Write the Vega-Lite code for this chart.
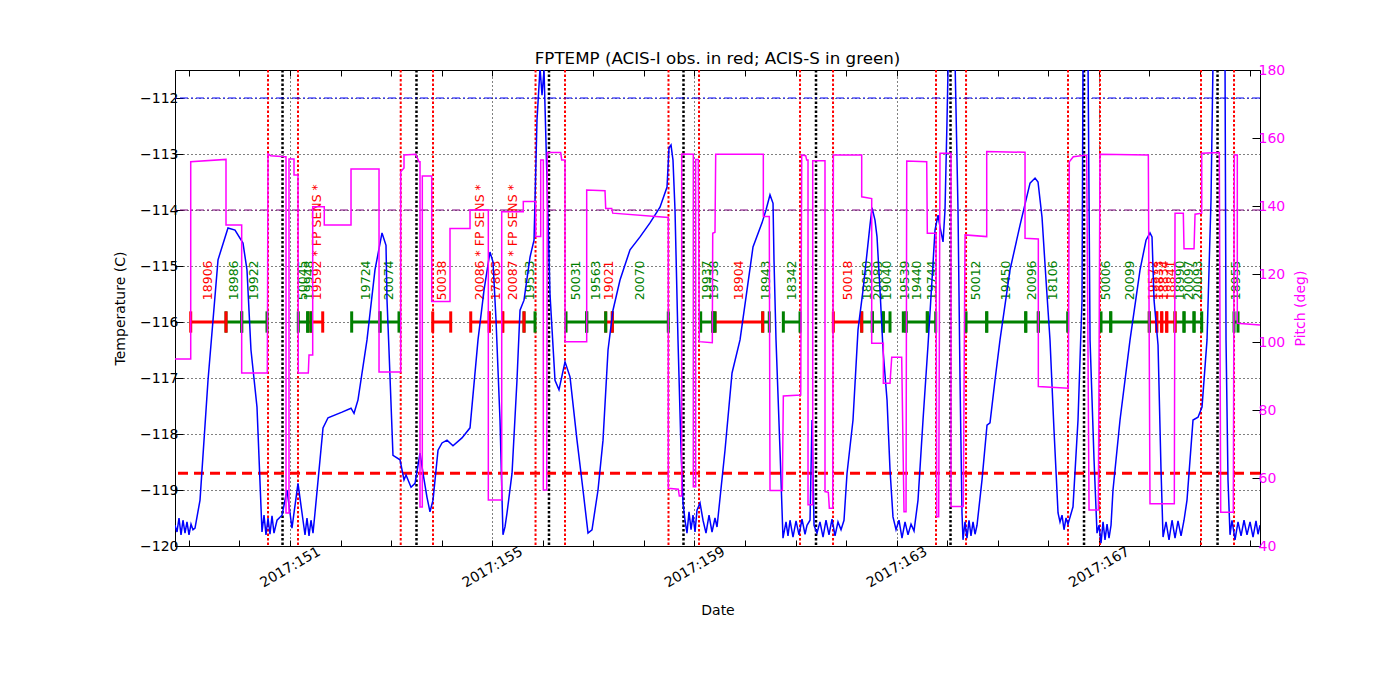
{
  "$schema": "https://vega.github.io/schema/vega-lite/v6.json",
  "width": 1085,
  "height": 476,
  "autosize": "none",
  "padding": {"left": 175, "top": 70, "right": 140, "bottom": 154},
  "background": "white",
  "title": {"text": "FPTEMP (ACIS-I obs. in red; ACIS-S in green)", "fontSize": 16.7, "fontWeight": "normal", "font": "DejaVu Sans", "color": "black", "offset": -5},
  "datasets": {
    "events": [
      {"day": 150.565, "event": "radzone"}, {"day": 151.158, "event": "radzone"},
      {"day": 153.190, "event": "radzone"}, {"day": 153.829, "event": "radzone"},
      {"day": 155.857, "event": "radzone"}, {"day": 156.440, "event": "radzone"},
      {"day": 158.487, "event": "radzone"}, {"day": 159.091, "event": "radzone"},
      {"day": 161.089, "event": "radzone"}, {"day": 161.742, "event": "radzone"},
      {"day": 163.779, "event": "radzone"}, {"day": 164.373, "event": "radzone"},
      {"day": 166.390, "event": "radzone"}, {"day": 167.023, "event": "radzone"},
      {"day": 169.021, "event": "radzone"}, {"day": 169.674, "event": "radzone"},
      {"day": 150.852, "event": "perigee"}, {"day": 153.502, "event": "perigee"},
      {"day": 156.123, "event": "perigee"}, {"day": 158.784, "event": "perigee"},
      {"day": 161.405, "event": "perigee"}, {"day": 164.066, "event": "perigee"},
      {"day": 166.707, "event": "perigee"}, {"day": 169.348, "event": "perigee"}
    ],
    "limits": [
      {"limit": "planning", "fptemp": -112.0},
      {"limit": "caution", "fptemp": -114.0},
      {"limit": "acis", "fptemp": -118.7}
    ],
    "obs": [
      {"obsid": "18906", "instrument": "ACIS-I", "start": 149.036, "stop": 149.734},
      {"obsid": "18986", "instrument": "ACIS-S", "start": 149.734, "stop": 150.044},
      {"obsid": "19922", "instrument": "ACIS-S", "start": 150.044, "stop": 150.545},
      {"obsid": "50045", "instrument": "ACIS-S", "start": 151.164, "stop": 151.350},
      {"obsid": "19948", "instrument": "ACIS-S", "start": 151.350, "stop": 151.415},
      {"obsid": "19592 * FP SENS *", "instrument": "ACIS-I", "start": 151.415, "stop": 151.647},
      {"obsid": "19724", "instrument": "ACIS-S", "start": 152.220, "stop": 152.780},
      {"obsid": "20074", "instrument": "ACIS-S", "start": 152.780, "stop": 153.156},
      {"obsid": "50038", "instrument": "ACIS-I", "start": 153.823, "stop": 154.179},
      {"obsid": "20086 * FP SENS *", "instrument": "ACIS-I", "start": 154.575, "stop": 154.942},
      {"obsid": "17863", "instrument": "ACIS-I", "start": 154.942, "stop": 155.208},
      {"obsid": "20087 * FP SENS *", "instrument": "ACIS-I", "start": 155.208, "stop": 155.629},
      {"obsid": "19533", "instrument": "ACIS-S", "start": 155.629, "stop": 155.847},
      {"obsid": "50031", "instrument": "ACIS-S", "start": 156.460, "stop": 156.869},
      {"obsid": "19563", "instrument": "ACIS-S", "start": 156.869, "stop": 157.245},
      {"obsid": "19021", "instrument": "ACIS-I", "start": 157.245, "stop": 157.376},
      {"obsid": "20070", "instrument": "ACIS-S", "start": 157.376, "stop": 158.483},
      {"obsid": "19937", "instrument": "ACIS-S", "start": 159.124, "stop": 159.362},
      {"obsid": "19738", "instrument": "ACIS-S", "start": 159.362, "stop": 159.407},
      {"obsid": "18904", "instrument": "ACIS-I", "start": 159.407, "stop": 160.351},
      {"obsid": "18943", "instrument": "ACIS-S", "start": 160.351, "stop": 160.481},
      {"obsid": "18342", "instrument": "ACIS-S", "start": 160.759, "stop": 161.089},
      {"obsid": "50018", "instrument": "ACIS-I", "start": 161.748, "stop": 162.309},
      {"obsid": "18950", "instrument": "ACIS-S", "start": 162.309, "stop": 162.519},
      {"obsid": "20089", "instrument": "ACIS-S", "start": 162.519, "stop": 162.737},
      {"obsid": "19040", "instrument": "ACIS-S", "start": 162.737, "stop": 162.869},
      {"obsid": "19539", "instrument": "ACIS-S", "start": 163.132, "stop": 163.186},
      {"obsid": "19440", "instrument": "ACIS-S", "start": 163.186, "stop": 163.607},
      {"obsid": "19744", "instrument": "ACIS-S", "start": 163.607, "stop": 163.773},
      {"obsid": "50012", "instrument": "ACIS-S", "start": 164.373, "stop": 164.782},
      {"obsid": "19450", "instrument": "ACIS-S", "start": 164.782, "stop": 165.554},
      {"obsid": "20096", "instrument": "ACIS-S", "start": 165.554, "stop": 165.803},
      {"obsid": "18106", "instrument": "ACIS-S", "start": 165.803, "stop": 166.384},
      {"obsid": "50006", "instrument": "ACIS-S", "start": 167.043, "stop": 167.235},
      {"obsid": "20099", "instrument": "ACIS-S", "start": 167.235, "stop": 167.998},
      {"obsid": "19572", "instrument": "ACIS-I", "start": 167.998, "stop": 168.145},
      {"obsid": "18833", "instrument": "ACIS-I", "start": 168.145, "stop": 168.244},
      {"obsid": "18834", "instrument": "ACIS-I", "start": 168.244, "stop": 168.343},
      {"obsid": "18841", "instrument": "ACIS-I", "start": 168.343, "stop": 168.507},
      {"obsid": "18990", "instrument": "ACIS-S", "start": 168.507, "stop": 168.685},
      {"obsid": "20097", "instrument": "ACIS-S", "start": 168.685, "stop": 168.883},
      {"obsid": "20093", "instrument": "ACIS-S", "start": 168.883, "stop": 169.035},
      {"obsid": "18955", "instrument": "ACIS-S", "start": 169.674, "stop": 169.753}
    ],
    "fptemp": [
      {"day": 148.725, "fptemp": -119.63}, {"day": 148.765, "fptemp": -119.75}, {"day": 148.804, "fptemp": -119.50},
      {"day": 148.844, "fptemp": -119.80}, {"day": 148.883, "fptemp": -119.54}, {"day": 148.923, "fptemp": -119.77},
      {"day": 148.962, "fptemp": -119.57}, {"day": 149.002, "fptemp": -119.80}, {"day": 149.042, "fptemp": -119.61},
      {"day": 149.081, "fptemp": -119.71}, {"day": 149.121, "fptemp": -119.68}, {"day": 149.220, "fptemp": -119.18},
      {"day": 149.378, "fptemp": -117.04}, {"day": 149.576, "fptemp": -114.89}, {"day": 149.773, "fptemp": -114.32},
      {"day": 149.912, "fptemp": -114.36}, {"day": 150.070, "fptemp": -114.59}, {"day": 150.149, "fptemp": -115.07},
      {"day": 150.228, "fptemp": -116.50}, {"day": 150.347, "fptemp": -117.52}, {"day": 150.446, "fptemp": -119.75},
      {"day": 150.486, "fptemp": -119.45}, {"day": 150.525, "fptemp": -119.80}, {"day": 150.565, "fptemp": -119.50},
      {"day": 150.604, "fptemp": -119.79}, {"day": 150.644, "fptemp": -119.46}, {"day": 150.683, "fptemp": -119.77},
      {"day": 150.743, "fptemp": -119.54}, {"day": 150.842, "fptemp": -119.45}, {"day": 150.941, "fptemp": -119.00},
      {"day": 151.039, "fptemp": -119.68}, {"day": 151.158, "fptemp": -118.88}, {"day": 151.257, "fptemp": -119.54},
      {"day": 151.297, "fptemp": -119.80}, {"day": 151.336, "fptemp": -119.50}, {"day": 151.376, "fptemp": -119.82},
      {"day": 151.415, "fptemp": -119.54}, {"day": 151.455, "fptemp": -119.77}, {"day": 151.494, "fptemp": -119.41},
      {"day": 151.653, "fptemp": -117.89}, {"day": 151.752, "fptemp": -117.71}, {"day": 152.029, "fptemp": -117.61},
      {"day": 152.207, "fptemp": -117.54}, {"day": 152.266, "fptemp": -117.63}, {"day": 152.345, "fptemp": -117.39},
      {"day": 152.523, "fptemp": -116.32}, {"day": 152.681, "fptemp": -115.07}, {"day": 152.820, "fptemp": -114.41},
      {"day": 152.899, "fptemp": -114.63}, {"day": 152.919, "fptemp": -115.61}, {"day": 152.958, "fptemp": -116.50},
      {"day": 153.037, "fptemp": -118.38}, {"day": 153.176, "fptemp": -118.46}, {"day": 153.255, "fptemp": -118.82},
      {"day": 153.295, "fptemp": -118.73}, {"day": 153.394, "fptemp": -118.95}, {"day": 153.473, "fptemp": -118.88},
      {"day": 153.572, "fptemp": -118.34}, {"day": 153.631, "fptemp": -118.70}, {"day": 153.710, "fptemp": -119.13},
      {"day": 153.769, "fptemp": -119.39}, {"day": 153.829, "fptemp": -119.18}, {"day": 153.928, "fptemp": -118.29},
      {"day": 154.007, "fptemp": -118.16}, {"day": 154.106, "fptemp": -118.11}, {"day": 154.224, "fptemp": -118.21},
      {"day": 154.402, "fptemp": -118.07}, {"day": 154.561, "fptemp": -117.89}, {"day": 154.719, "fptemp": -116.32},
      {"day": 154.838, "fptemp": -115.43}, {"day": 154.956, "fptemp": -114.75}, {"day": 155.016, "fptemp": -114.93},
      {"day": 155.075, "fptemp": -115.96}, {"day": 155.154, "fptemp": -117.75}, {"day": 155.213, "fptemp": -119.80},
      {"day": 155.253, "fptemp": -119.66}, {"day": 155.293, "fptemp": -119.41}, {"day": 155.392, "fptemp": -118.70},
      {"day": 155.490, "fptemp": -117.04}, {"day": 155.550, "fptemp": -115.79}, {"day": 155.629, "fptemp": -115.61},
      {"day": 155.748, "fptemp": -114.84}, {"day": 155.827, "fptemp": -114.54}, {"day": 155.886, "fptemp": -112.39},
      {"day": 155.946, "fptemp": -111.46}, {"day": 155.985, "fptemp": -111.95}, {"day": 156.025, "fptemp": -111.50},
      {"day": 156.064, "fptemp": -112.80}, {"day": 156.143, "fptemp": -115.50}, {"day": 156.242, "fptemp": -117.04},
      {"day": 156.321, "fptemp": -117.21}, {"day": 156.440, "fptemp": -116.71}, {"day": 156.539, "fptemp": -116.98},
      {"day": 156.677, "fptemp": -118.11}, {"day": 156.796, "fptemp": -119.00}, {"day": 156.895, "fptemp": -119.77},
      {"day": 156.974, "fptemp": -119.71}, {"day": 157.093, "fptemp": -119.00}, {"day": 157.192, "fptemp": -118.11},
      {"day": 157.291, "fptemp": -116.50}, {"day": 157.389, "fptemp": -115.79}, {"day": 157.528, "fptemp": -115.25},
      {"day": 157.726, "fptemp": -114.71}, {"day": 157.924, "fptemp": -114.48}, {"day": 158.121, "fptemp": -114.23},
      {"day": 158.319, "fptemp": -113.95}, {"day": 158.458, "fptemp": -113.59}, {"day": 158.497, "fptemp": -112.89},
      {"day": 158.537, "fptemp": -112.84}, {"day": 158.576, "fptemp": -113.11}, {"day": 158.616, "fptemp": -114.00},
      {"day": 158.675, "fptemp": -116.32}, {"day": 158.735, "fptemp": -118.29}, {"day": 158.774, "fptemp": -119.23},
      {"day": 158.814, "fptemp": -119.54}, {"day": 158.853, "fptemp": -119.77}, {"day": 158.893, "fptemp": -119.39},
      {"day": 158.933, "fptemp": -119.71}, {"day": 158.972, "fptemp": -119.45}, {"day": 159.012, "fptemp": -119.75},
      {"day": 159.051, "fptemp": -119.36}, {"day": 159.111, "fptemp": -119.23}, {"day": 159.170, "fptemp": -119.54},
      {"day": 159.229, "fptemp": -119.77}, {"day": 159.289, "fptemp": -119.45}, {"day": 159.348, "fptemp": -119.75},
      {"day": 159.407, "fptemp": -119.50}, {"day": 159.447, "fptemp": -119.66}, {"day": 159.605, "fptemp": -118.29},
      {"day": 159.744, "fptemp": -116.91}, {"day": 159.902, "fptemp": -116.32}, {"day": 160.040, "fptemp": -115.43},
      {"day": 160.159, "fptemp": -114.66}, {"day": 160.337, "fptemp": -114.23}, {"day": 160.416, "fptemp": -114.00},
      {"day": 160.495, "fptemp": -113.73}, {"day": 160.555, "fptemp": -113.88}, {"day": 160.574, "fptemp": -114.89},
      {"day": 160.614, "fptemp": -116.32}, {"day": 160.693, "fptemp": -118.29}, {"day": 160.752, "fptemp": -119.86},
      {"day": 160.812, "fptemp": -119.57}, {"day": 160.851, "fptemp": -119.82}, {"day": 160.891, "fptemp": -119.54},
      {"day": 160.950, "fptemp": -119.84}, {"day": 161.010, "fptemp": -119.55}, {"day": 161.069, "fptemp": -119.80},
      {"day": 161.128, "fptemp": -119.52}, {"day": 161.188, "fptemp": -119.79}, {"day": 161.227, "fptemp": -119.63},
      {"day": 161.287, "fptemp": -119.54}, {"day": 161.326, "fptemp": -117.75}, {"day": 161.366, "fptemp": -119.63},
      {"day": 161.425, "fptemp": -119.77}, {"day": 161.484, "fptemp": -119.57}, {"day": 161.544, "fptemp": -119.84},
      {"day": 161.603, "fptemp": -119.54}, {"day": 161.662, "fptemp": -119.80}, {"day": 161.722, "fptemp": -119.52},
      {"day": 161.781, "fptemp": -119.82}, {"day": 161.840, "fptemp": -119.57}, {"day": 161.900, "fptemp": -119.71},
      {"day": 161.959, "fptemp": -119.54}, {"day": 162.019, "fptemp": -118.70}, {"day": 162.137, "fptemp": -117.75},
      {"day": 162.236, "fptemp": -116.14}, {"day": 162.335, "fptemp": -115.43}, {"day": 162.414, "fptemp": -114.77},
      {"day": 162.473, "fptemp": -114.27}, {"day": 162.513, "fptemp": -113.96}, {"day": 162.572, "fptemp": -114.18},
      {"day": 162.612, "fptemp": -114.48}, {"day": 162.671, "fptemp": -115.43}, {"day": 162.731, "fptemp": -116.50},
      {"day": 162.810, "fptemp": -117.39}, {"day": 162.869, "fptemp": -118.64}, {"day": 162.928, "fptemp": -119.48},
      {"day": 162.988, "fptemp": -119.71}, {"day": 163.047, "fptemp": -119.54}, {"day": 163.106, "fptemp": -119.86},
      {"day": 163.166, "fptemp": -119.57}, {"day": 163.225, "fptemp": -119.80}, {"day": 163.285, "fptemp": -119.61},
      {"day": 163.344, "fptemp": -119.73}, {"day": 163.423, "fptemp": -119.18}, {"day": 163.522, "fptemp": -117.75},
      {"day": 163.621, "fptemp": -116.41}, {"day": 163.700, "fptemp": -115.25}, {"day": 163.759, "fptemp": -114.36},
      {"day": 163.819, "fptemp": -114.09}, {"day": 163.858, "fptemp": -114.30}, {"day": 163.918, "fptemp": -114.57},
      {"day": 163.957, "fptemp": -114.00}, {"day": 163.997, "fptemp": -112.39}, {"day": 164.036, "fptemp": -110.61},
      {"day": 164.115, "fptemp": -110.61}, {"day": 164.155, "fptemp": -111.32}, {"day": 164.214, "fptemp": -114.00},
      {"day": 164.254, "fptemp": -117.04}, {"day": 164.293, "fptemp": -119.41}, {"day": 164.313, "fptemp": -119.89},
      {"day": 164.353, "fptemp": -119.57}, {"day": 164.392, "fptemp": -119.86}, {"day": 164.432, "fptemp": -119.54},
      {"day": 164.471, "fptemp": -119.82}, {"day": 164.511, "fptemp": -119.57}, {"day": 164.551, "fptemp": -119.79},
      {"day": 164.590, "fptemp": -119.63}, {"day": 164.689, "fptemp": -118.82}, {"day": 164.788, "fptemp": -117.84},
      {"day": 164.847, "fptemp": -117.80}, {"day": 164.946, "fptemp": -117.04}, {"day": 165.045, "fptemp": -116.32},
      {"day": 165.243, "fptemp": -115.07}, {"day": 165.441, "fptemp": -114.27}, {"day": 165.639, "fptemp": -113.52},
      {"day": 165.738, "fptemp": -113.43}, {"day": 165.797, "fptemp": -113.50}, {"day": 165.876, "fptemp": -114.13},
      {"day": 165.955, "fptemp": -115.25}, {"day": 166.034, "fptemp": -116.32}, {"day": 166.113, "fptemp": -117.93},
      {"day": 166.193, "fptemp": -119.41}, {"day": 166.232, "fptemp": -119.57}, {"day": 166.272, "fptemp": -119.45},
      {"day": 166.311, "fptemp": -119.71}, {"day": 166.351, "fptemp": -119.50}, {"day": 166.390, "fptemp": -119.61},
      {"day": 166.489, "fptemp": -119.30}, {"day": 166.588, "fptemp": -117.75}, {"day": 166.667, "fptemp": -115.61},
      {"day": 166.687, "fptemp": -111.32}, {"day": 166.727, "fptemp": -110.61}, {"day": 166.766, "fptemp": -110.61},
      {"day": 166.786, "fptemp": -111.32}, {"day": 166.826, "fptemp": -116.32}, {"day": 166.905, "fptemp": -118.46},
      {"day": 166.964, "fptemp": -119.77}, {"day": 167.004, "fptemp": -119.63}, {"day": 167.043, "fptemp": -119.95},
      {"day": 167.083, "fptemp": -119.57}, {"day": 167.122, "fptemp": -119.89}, {"day": 167.162, "fptemp": -119.61},
      {"day": 167.201, "fptemp": -119.86}, {"day": 167.241, "fptemp": -119.63}, {"day": 167.280, "fptemp": -119.00},
      {"day": 167.419, "fptemp": -117.75}, {"day": 167.617, "fptemp": -116.32}, {"day": 167.815, "fptemp": -115.07},
      {"day": 167.933, "fptemp": -114.54}, {"day": 168.012, "fptemp": -114.41}, {"day": 168.052, "fptemp": -114.48},
      {"day": 168.092, "fptemp": -115.61}, {"day": 168.171, "fptemp": -116.41}, {"day": 168.230, "fptemp": -118.64},
      {"day": 168.270, "fptemp": -119.84}, {"day": 168.329, "fptemp": -119.57}, {"day": 168.388, "fptemp": -119.89},
      {"day": 168.448, "fptemp": -119.54}, {"day": 168.507, "fptemp": -119.86}, {"day": 168.566, "fptemp": -119.55},
      {"day": 168.626, "fptemp": -119.82}, {"day": 168.685, "fptemp": -119.54}, {"day": 168.744, "fptemp": -119.18},
      {"day": 168.863, "fptemp": -117.75}, {"day": 168.962, "fptemp": -117.70}, {"day": 169.041, "fptemp": -117.52},
      {"day": 169.140, "fptemp": -116.32}, {"day": 169.219, "fptemp": -113.82}, {"day": 169.259, "fptemp": -111.32},
      {"day": 169.278, "fptemp": -110.61}, {"day": 169.456, "fptemp": -110.61}, {"day": 169.496, "fptemp": -111.32},
      {"day": 169.516, "fptemp": -116.32}, {"day": 169.555, "fptemp": -118.82}, {"day": 169.595, "fptemp": -119.80},
      {"day": 169.634, "fptemp": -119.54}, {"day": 169.694, "fptemp": -119.89}, {"day": 169.753, "fptemp": -119.57},
      {"day": 169.813, "fptemp": -119.82}, {"day": 169.872, "fptemp": -119.54}, {"day": 169.931, "fptemp": -119.80},
      {"day": 169.991, "fptemp": -119.57}, {"day": 170.050, "fptemp": -119.84}, {"day": 170.109, "fptemp": -119.55},
      {"day": 170.149, "fptemp": -119.79}, {"day": 170.188, "fptemp": -119.63}
    ],
    "pitch": [
      {"day": 148.725, "pitch": 95.0}, {"day": 149.036, "pitch": 95.0}, {"day": 149.036, "pitch": 153.0},
      {"day": 149.734, "pitch": 153.7}, {"day": 149.734, "pitch": 134.4}, {"day": 150.044, "pitch": 134.4},
      {"day": 150.044, "pitch": 90.9}, {"day": 150.551, "pitch": 90.9}, {"day": 150.565, "pitch": 155.3},
      {"day": 150.618, "pitch": 154.8}, {"day": 150.901, "pitch": 154.5}, {"day": 150.921, "pitch": 154.5},
      {"day": 150.921, "pitch": 49.7}, {"day": 150.980, "pitch": 49.7}, {"day": 150.980, "pitch": 153.8},
      {"day": 151.079, "pitch": 153.8}, {"day": 151.079, "pitch": 149.1}, {"day": 151.158, "pitch": 149.1},
      {"day": 151.164, "pitch": 90.9}, {"day": 151.362, "pitch": 90.9}, {"day": 151.376, "pitch": 96.2},
      {"day": 151.449, "pitch": 96.2}, {"day": 151.449, "pitch": 139.8}, {"day": 151.678, "pitch": 139.8},
      {"day": 151.678, "pitch": 134.4}, {"day": 152.207, "pitch": 134.4}, {"day": 152.207, "pitch": 150.9},
      {"day": 152.761, "pitch": 150.9}, {"day": 152.761, "pitch": 91.2}, {"day": 153.190, "pitch": 91.2},
      {"day": 153.190, "pitch": 150.1}, {"day": 153.255, "pitch": 151.2}, {"day": 153.255, "pitch": 155.0},
      {"day": 153.487, "pitch": 155.2}, {"day": 153.552, "pitch": 153.0}, {"day": 153.572, "pitch": 153.0},
      {"day": 153.572, "pitch": 51.5}, {"day": 153.617, "pitch": 51.5}, {"day": 153.617, "pitch": 148.8},
      {"day": 153.803, "pitch": 148.8}, {"day": 153.803, "pitch": 111.9}, {"day": 154.165, "pitch": 111.9},
      {"day": 154.165, "pitch": 133.4}, {"day": 154.561, "pitch": 133.4}, {"day": 154.561, "pitch": 138.8},
      {"day": 154.923, "pitch": 138.8}, {"day": 154.923, "pitch": 53.5}, {"day": 155.188, "pitch": 53.5},
      {"day": 155.188, "pitch": 138.3}, {"day": 155.615, "pitch": 138.3}, {"day": 155.615, "pitch": 141.3},
      {"day": 155.860, "pitch": 141.3}, {"day": 155.860, "pitch": 131.0}, {"day": 155.959, "pitch": 131.0},
      {"day": 155.959, "pitch": 153.5}, {"day": 156.011, "pitch": 153.5}, {"day": 156.011, "pitch": 56.5},
      {"day": 156.078, "pitch": 56.5}, {"day": 156.090, "pitch": 155.7}, {"day": 156.355, "pitch": 155.7},
      {"day": 156.375, "pitch": 153.5}, {"day": 156.440, "pitch": 153.5}, {"day": 156.440, "pitch": 100.1},
      {"day": 156.869, "pitch": 100.1}, {"day": 156.869, "pitch": 144.7}, {"day": 157.231, "pitch": 144.5},
      {"day": 157.245, "pitch": 139.3}, {"day": 157.364, "pitch": 139.3}, {"day": 157.384, "pitch": 137.9},
      {"day": 158.483, "pitch": 136.6}, {"day": 158.483, "pitch": 57.0}, {"day": 158.681, "pitch": 56.7},
      {"day": 158.701, "pitch": 54.7}, {"day": 158.748, "pitch": 54.7}, {"day": 158.748, "pitch": 155.3},
      {"day": 158.978, "pitch": 155.2}, {"day": 158.978, "pitch": 57.4}, {"day": 159.025, "pitch": 57.4},
      {"day": 159.025, "pitch": 153.7}, {"day": 159.077, "pitch": 153.7}, {"day": 159.097, "pitch": 100.1},
      {"day": 159.354, "pitch": 99.8}, {"day": 159.362, "pitch": 132.0}, {"day": 159.407, "pitch": 132.3},
      {"day": 159.421, "pitch": 155.2}, {"day": 160.363, "pitch": 155.2}, {"day": 160.363, "pitch": 136.9},
      {"day": 160.481, "pitch": 136.9}, {"day": 160.495, "pitch": 56.3}, {"day": 160.739, "pitch": 56.3},
      {"day": 160.759, "pitch": 84.1}, {"day": 161.103, "pitch": 84.4}, {"day": 161.123, "pitch": 155.0},
      {"day": 161.201, "pitch": 154.8}, {"day": 161.221, "pitch": 153.5}, {"day": 161.247, "pitch": 153.5},
      {"day": 161.247, "pitch": 52.1}, {"day": 161.340, "pitch": 52.1}, {"day": 161.340, "pitch": 153.3},
      {"day": 161.583, "pitch": 153.3}, {"day": 161.583, "pitch": 56.0}, {"day": 161.649, "pitch": 55.8},
      {"day": 161.669, "pitch": 51.1}, {"day": 161.736, "pitch": 51.1}, {"day": 161.748, "pitch": 155.0},
      {"day": 162.309, "pitch": 155.0}, {"day": 162.309, "pitch": 142.7}, {"day": 162.507, "pitch": 142.2},
      {"day": 162.507, "pitch": 99.6}, {"day": 162.737, "pitch": 99.6}, {"day": 162.737, "pitch": 87.9},
      {"day": 162.869, "pitch": 87.9}, {"day": 162.903, "pitch": 95.5}, {"day": 163.100, "pitch": 95.5},
      {"day": 163.146, "pitch": 50.1}, {"day": 163.186, "pitch": 50.1}, {"day": 163.200, "pitch": 153.2},
      {"day": 163.595, "pitch": 153.0}, {"day": 163.607, "pitch": 132.0}, {"day": 163.779, "pitch": 132.0},
      {"day": 163.793, "pitch": 48.6}, {"day": 163.832, "pitch": 48.6}, {"day": 163.858, "pitch": 155.5},
      {"day": 164.076, "pitch": 155.5}, {"day": 164.076, "pitch": 51.6}, {"day": 164.319, "pitch": 51.6},
      {"day": 164.353, "pitch": 131.5}, {"day": 164.782, "pitch": 131.0}, {"day": 164.782, "pitch": 156.0},
      {"day": 165.540, "pitch": 155.8}, {"day": 165.540, "pitch": 130.5}, {"day": 165.803, "pitch": 130.3},
      {"day": 165.803, "pitch": 86.9}, {"day": 166.396, "pitch": 86.4}, {"day": 166.416, "pitch": 153.0},
      {"day": 166.495, "pitch": 154.5}, {"day": 166.760, "pitch": 155.0}, {"day": 166.806, "pitch": 50.6},
      {"day": 166.990, "pitch": 50.6}, {"day": 167.023, "pitch": 155.2}, {"day": 167.979, "pitch": 155.0},
      {"day": 168.012, "pitch": 52.4}, {"day": 168.493, "pitch": 52.4}, {"day": 168.507, "pitch": 137.9},
      {"day": 168.671, "pitch": 137.9}, {"day": 168.685, "pitch": 127.4}, {"day": 168.883, "pitch": 127.4},
      {"day": 168.903, "pitch": 137.6}, {"day": 169.035, "pitch": 137.9}, {"day": 169.035, "pitch": 155.5},
      {"day": 169.383, "pitch": 155.7}, {"day": 169.411, "pitch": 49.9}, {"day": 169.660, "pitch": 49.9},
      {"day": 169.680, "pitch": 155.0}, {"day": 169.739, "pitch": 155.0}, {"day": 169.739, "pitch": 105.5},
      {"day": 170.188, "pitch": 105.0}
    ]
  },
  "layer": [
    {
      "data": {"name": "events"},
      "transform": [{"filter": "datum.event === 'radzone'"}],
      "mark": {"type": "rule", "color": "#ff0000", "strokeWidth": 2, "strokeDash": [2.5, 2]},
      "encoding": {
        "x": {
          "field": "day", "type": "quantitative",
          "scale": {"domain": [148.725, 170.188], "nice": false, "zero": false},
          "axis": {
            "orient": "bottom", "title": "Date",
            "values": [149, 150, 151, 152, 153, 154, 155, 156, 157, 158, 159, 160, 161, 162, 163, 164, 165, 166, 167, 168, 169, 170],
            "labelExpr": "(datum.value - 151) % 4 === 0 ? '2017:' + datum.value : ''",
            "labelAngle": -30, "labelAlign": "center", "labelBaseline": "middle",
            "labelPadding": 27, "labelOverlap": false, "labelFontSize": 14,
            "tickSize": -6, "domain": false,
            "grid": true, "gridColor": "black", "gridDash": [1, 3],
            "gridOpacity": {"condition": {"test": "(datum.value - 151) % 4 === 0", "value": 1}, "value": 0},
            "titlePadding": 14
          }
        }
      }
    },
    {
      "data": {"name": "events"},
      "transform": [{"filter": "datum.event === 'perigee'"}],
      "mark": {"type": "rule", "color": "black", "strokeWidth": 2.5, "strokeDash": [2.5, 2]},
      "encoding": {
        "x": {"field": "day", "type": "quantitative", "scale": {"domain": [148.725, 170.188], "nice": false, "zero": false}, "axis": null}
      }
    },
    {
      "data": {"name": "limits"},
      "transform": [{"filter": "datum.limit === 'planning'"}],
      "mark": {"type": "rule", "color": "#0000ff", "strokeWidth": 1, "strokeDash": [8, 3, 2, 3]},
      "encoding": {
        "y": {"field": "fptemp", "type": "quantitative", "scale": {"domain": [-120, -111.5], "nice": false, "zero": false}, "axis": null}
      }
    },
    {
      "data": {"name": "limits"},
      "transform": [{"filter": "datum.limit === 'caution'"}],
      "mark": {"type": "rule", "color": "#800080", "strokeWidth": 1, "strokeDash": [8, 3, 2, 3]},
      "encoding": {
        "y": {"field": "fptemp", "type": "quantitative", "scale": {"domain": [-120, -111.5], "nice": false, "zero": false}, "axis": null}
      }
    },
    {
      "data": {"name": "limits"},
      "transform": [{"filter": "datum.limit === 'acis'"}],
      "mark": {"type": "rule", "color": "#ff0000", "strokeWidth": 3, "strokeDash": [10, 6]},
      "encoding": {
        "y": {"field": "fptemp", "type": "quantitative", "scale": {"domain": [-120, -111.5], "nice": false, "zero": false}, "axis": null}
      }
    },
    {
      "data": {"name": "obs"},
      "mark": {"type": "rule", "strokeWidth": 3},
      "encoding": {
        "x": {"field": "start", "type": "quantitative", "scale": {"domain": [148.725, 170.188], "nice": false, "zero": false}, "axis": null},
        "x2": {"field": "stop"},
        "y": {"datum": -116, "type": "quantitative", "scale": {"domain": [-120, -111.5], "nice": false, "zero": false}, "axis": null},
        "color": {"field": "instrument", "type": "nominal", "scale": {"domain": ["ACIS-I", "ACIS-S"], "range": ["#ff0000", "#008000"]}, "legend": null}
      }
    },
    {
      "data": {"name": "obs"},
      "mark": {"type": "rule", "strokeWidth": 3},
      "encoding": {
        "x": {"field": "start", "type": "quantitative", "scale": {"domain": [148.725, 170.188], "nice": false, "zero": false}, "axis": null},
        "y": {"datum": -116.19, "type": "quantitative", "scale": {"domain": [-120, -111.5], "nice": false, "zero": false}, "axis": null},
        "y2": {"datum": -115.81},
        "color": {"field": "instrument", "type": "nominal", "legend": null}
      }
    },
    {
      "data": {"name": "obs"},
      "mark": {"type": "rule", "strokeWidth": 3},
      "encoding": {
        "x": {"field": "stop", "type": "quantitative", "scale": {"domain": [148.725, 170.188], "nice": false, "zero": false}, "axis": null},
        "y": {"datum": -116.19, "type": "quantitative", "scale": {"domain": [-120, -111.5], "nice": false, "zero": false}, "axis": null},
        "y2": {"datum": -115.81},
        "color": {"field": "instrument", "type": "nominal", "legend": null}
      }
    },
    {
      "data": {"name": "obs"},
      "transform": [{"calculate": "(datum.start + datum.stop) / 2", "as": "mid"}],
      "mark": {"type": "text", "angle": 270, "align": "left", "baseline": "middle", "dx": 5, "fontSize": 12.5, "font": "DejaVu Sans"},
      "encoding": {
        "x": {"field": "mid", "type": "quantitative", "scale": {"domain": [148.725, 170.188], "nice": false, "zero": false}, "axis": null},
        "y": {"datum": -115.7, "type": "quantitative", "scale": {"domain": [-120, -111.5], "nice": false, "zero": false}, "axis": null},
        "text": {"field": "obsid"},
        "color": {"field": "instrument", "type": "nominal", "legend": null}
      }
    },
    {
      "data": {"name": "fptemp"},
      "mark": {"type": "line", "color": "#0000ff", "strokeWidth": 1.5, "clip": true},
      "encoding": {
        "x": {"field": "day", "type": "quantitative", "scale": {"domain": [148.725, 170.188], "nice": false, "zero": false}, "axis": null},
        "y": {
          "field": "fptemp", "type": "quantitative",
          "scale": {"domain": [-120, -111.5], "nice": false, "zero": false},
          "axis": {
            "orient": "left", "title": "Temperature (C)",
            "values": [-120, -119, -118, -117, -116, -115, -114, -113, -112],
            "labelExpr": "datum.value < 0 ? '\u2212' + abs(datum.value) : '' + datum.value",
            "tickSize": -8, "domain": false, "labelPadding": 5, "titlePadding": 12,
            "labelFontSize": 14,
            "grid": true, "gridColor": "black", "gridDash": [1, 3]
          }
        },
        "order": {"value": null}
      }
    },
    {
      "data": {"name": "pitch"},
      "mark": {"type": "line", "color": "#ff00ff", "strokeWidth": 1.5, "clip": true},
      "encoding": {
        "x": {
          "field": "day", "type": "quantitative",
          "scale": {"domain": [148.725, 170.188], "nice": false, "zero": false},
          "axis": {
            "orient": "top", "title": null, "labels": false, "domain": false, "grid": false,
            "values": [149, 150, 151, 152, 153, 154, 155, 156, 157, 158, 159, 160, 161, 162, 163, 164, 165, 166, 167, 168, 169, 170],
            "tickSize": -6
          }
        },
        "y": {
          "field": "pitch", "type": "quantitative",
          "scale": {"domain": [40, 180], "nice": false, "zero": false},
          "axis": {
            "orient": "right", "title": "Pitch (deg)",
            "values": [40, 60, 80, 100, 120, 140, 160, 180],
            "tickSize": -8, "domain": false, "grid": false,
            "labelColor": "#ff00ff", "titleColor": "#ff00ff", "labelFontSize": 14,
            "labelPadding": 6, "titlePadding": 9, "titleAngle": 270, "titleBaseline": "top"
          }
        },
        "order": {"value": null}
      }
    }
  ],
  "resolve": {"scale": {"y": "independent"}, "axis": {"y": "independent", "x": "independent"}},
  "config": {
    "view": {"stroke": "black", "strokeWidth": 1},
    "font": "DejaVu Sans",
    "axis": {"labelColor": "black", "titleColor": "black", "titleFontSize": 14, "titleFontWeight": "normal", "tickColor": "black", "labelFont": "DejaVu Sans", "titleFont": "DejaVu Sans"}
  }
}
